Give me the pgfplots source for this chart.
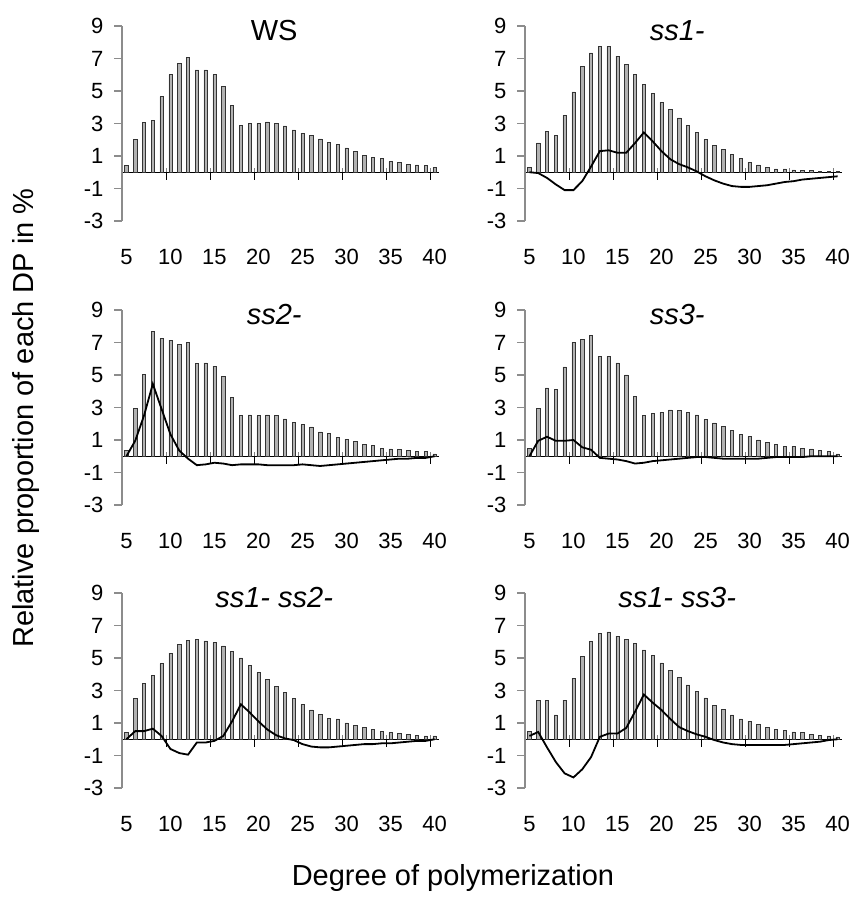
\documentclass[border=0pt]{standalone}
\usepackage{fontspec}
\setmainfont{Liberation Sans}
\usepackage{pgfplots}
\usepackage{pgfplotstable}
\pgfplotsset{compat=1.18}

% columns: dp, bar = share of each DP (%), diff = difference to WS (%)
\pgfplotstableread{
dp bar
5 0.40
6 2.00
7 3.05
8 3.20
9 4.65
10 6.00
11 6.70
12 7.05
13 6.30
14 6.30
15 6.00
16 5.30
17 4.10
18 2.90
19 3.00
20 3.00
21 3.10
22 3.00
23 2.85
24 2.60
25 2.40
26 2.25
27 2.05
28 1.85
29 1.70
30 1.50
31 1.30
32 1.05
33 0.90
34 0.85
35 0.65
36 0.60
37 0.50
38 0.45
39 0.40
40 0.30
}\ws

\pgfplotstableread{
dp bar diff
5 0.30 0.00
6 1.80 -0.05
7 2.50 -0.35
8 2.25 -0.75
9 3.50 -1.10
10 4.95 -1.10
11 6.50 -0.55
12 7.35 0.35
13 7.75 1.30
14 7.75 1.35
15 7.15 1.20
16 6.65 1.20
17 6.00 1.80
18 5.40 2.45
19 4.85 1.90
20 4.30 1.30
21 3.85 0.80
22 3.35 0.50
23 2.90 0.30
24 2.45 0.05
25 2.00 -0.25
26 1.65 -0.50
27 1.40 -0.70
28 1.10 -0.85
29 0.85 -0.90
30 0.60 -0.90
31 0.45 -0.85
32 0.30 -0.80
33 0.20 -0.70
34 0.20 -0.60
35 0.15 -0.55
36 0.10 -0.45
37 0.10 -0.40
38 0.05 -0.35
39 0.05 -0.30
40 0.05 -0.25
}\ssone

\pgfplotstableread{
dp bar diff
5 0.35 0.00
6 2.95 0.95
7 5.05 2.50
8 7.70 4.45
9 7.25 2.90
10 7.15 1.35
11 6.90 0.35
12 7.00 -0.15
13 5.70 -0.55
14 5.75 -0.50
15 5.55 -0.40
16 4.90 -0.45
17 3.60 -0.55
18 2.50 -0.50
19 2.55 -0.50
20 2.50 -0.50
21 2.55 -0.55
22 2.50 -0.55
23 2.30 -0.55
24 2.10 -0.55
25 1.95 -0.50
26 1.80 -0.55
27 1.50 -0.60
28 1.40 -0.55
29 1.15 -0.50
30 1.05 -0.45
31 0.90 -0.40
32 0.75 -0.35
33 0.65 -0.30
34 0.50 -0.25
35 0.45 -0.20
36 0.40 -0.15
37 0.35 -0.15
38 0.30 -0.10
39 0.30 -0.10
40 0.15 0.00
}\sstwo

\pgfplotstableread{
dp bar diff
5 0.50 0.00
6 2.95 0.95
7 4.20 1.20
8 4.10 0.95
9 5.50 0.95
10 7.00 1.00
11 7.20 0.55
12 7.45 0.40
13 6.15 -0.10
14 6.15 -0.15
15 5.75 -0.20
16 5.00 -0.30
17 3.70 -0.45
18 2.50 -0.40
19 2.65 -0.30
20 2.70 -0.25
21 2.85 -0.20
22 2.80 -0.15
23 2.70 -0.10
24 2.55 -0.05
25 2.25 -0.05
26 2.05 -0.10
27 1.85 -0.15
28 1.60 -0.15
29 1.35 -0.15
30 1.20 -0.15
31 1.00 -0.15
32 0.85 -0.10
33 0.75 -0.05
34 0.60 -0.05
35 0.60 -0.05
36 0.50 -0.05
37 0.45 0.00
38 0.35 0.00
39 0.30 0.00
40 0.15 0.00
}\ssthree

\pgfplotstableread{
dp bar diff
5 0.40 0.00
6 2.50 0.50
7 3.45 0.50
8 3.95 0.65
9 4.65 0.20
10 5.30 -0.60
11 5.85 -0.85
12 6.10 -0.95
13 6.15 -0.20
14 6.05 -0.20
15 5.95 -0.10
16 5.75 0.20
17 5.40 1.10
18 5.00 2.15
19 4.55 1.65
20 4.10 1.10
21 3.70 0.60
22 3.25 0.25
23 2.90 0.05
24 2.50 -0.05
25 2.15 -0.30
26 1.80 -0.45
27 1.55 -0.50
28 1.30 -0.50
29 1.25 -0.45
30 1.00 -0.40
31 0.85 -0.35
32 0.75 -0.30
33 0.60 -0.30
34 0.50 -0.25
35 0.40 -0.25
36 0.35 -0.20
37 0.30 -0.15
38 0.25 -0.10
39 0.20 -0.10
40 0.20 0.00
}\ssonetwo

\pgfplotstableread{
dp bar diff
5 0.50 0.20
6 2.40 0.45
7 2.40 -0.50
8 1.50 -1.40
9 2.40 -2.10
10 3.75 -2.35
11 5.10 -1.85
12 6.00 -1.10
13 6.50 0.15
14 6.60 0.35
15 6.35 0.35
16 6.15 0.70
17 5.90 1.70
18 5.50 2.75
19 5.15 2.25
20 4.70 1.80
21 4.25 1.25
22 3.80 0.75
23 3.35 0.50
24 2.95 0.30
25 2.55 0.15
26 2.10 -0.05
27 1.85 -0.20
28 1.50 -0.30
29 1.25 -0.35
30 1.10 -0.35
31 0.90 -0.35
32 0.75 -0.35
33 0.60 -0.35
34 0.55 -0.35
35 0.45 -0.30
36 0.40 -0.25
37 0.30 -0.20
38 0.25 -0.15
39 0.20 -0.05
40 0.15 0.00
}\ssonethree

\pgfplotsset{
  dppanel/.style={
    scale only axis, width=317pt, height=195pt,
    anchor=south west,
    xmin=4.5, xmax=40.5, ymin=-3, ymax=9,
    axis x line*=middle, axis y line*=left,
    hide obscured x ticks=false,
    % labels sit on the categories, half a category right of the boundaries
    xtick={4.5,9.5,14.5,19.5,24.5,29.5,34.5,39.5},
    xticklabels={5,10,15,20,25,30,35,40},
    xticklabel style={anchor=center, xshift=4.4pt, yshift=-81pt},
    ytick={-3,-1,1,3,5,7,9},
    ytick align=outside,
    xtick align=center,
    major tick length=8pt,
    every y tick/.append style={black!45, line width=1.3pt},
    tick label style={font=\fontsize{22}{24}\selectfont},
    yticklabel style={xshift=-7pt},
    /pgf/number format/assume math mode=true,
    x axis line style={black, line width=1pt},
    y axis line style={black!45, line width=1.3pt},
    title style={at={(axis description cs:0.48,0.945)}, anchor=center,
      font=\fontsize{29}{32}\selectfont},
    clip=false,
  },
  dpbar/.style={ybar, bar width=0.38, fill=black!30, draw=black!80, line width=0.5pt},
  dpline/.style={black, line width=1.8pt, mark=none},
}

% short downward marks on the zero line at the category boundaries
\newcommand{\boundaryticks}{%
  \addplot[ycomb, black, line width=1pt, mark=none, forget plot]
    coordinates {(9.5,-0.45) (14.5,-0.45) (19.5,-0.45) (24.5,-0.45)
                 (29.5,-0.45) (34.5,-0.45) (39.5,-0.45)};}

\begin{document}
\begin{tikzpicture}
\path[use as bounding box] (0,0) rectangle (856pt,897pt);

\begin{axis}[dppanel, at={(122pt,676pt)}, title={WS}]
  \addplot[dpbar] table[x=dp, y=bar] {\ws};
  \boundaryticks
\end{axis}

\begin{axis}[dppanel, at={(525pt,676pt)}, title={\textit{ss1-}}]
  \addplot[dpbar] table[x=dp, y=bar] {\ssone};
  \boundaryticks
  \addplot[dpline] table[x=dp, y=diff] {\ssone};
\end{axis}

\begin{axis}[dppanel, at={(122pt,392pt)}, title={\textit{ss2-}}]
  \addplot[dpbar] table[x=dp, y=bar] {\sstwo};
  \boundaryticks
  \addplot[dpline] table[x=dp, y=diff] {\sstwo};
\end{axis}

\begin{axis}[dppanel, at={(525pt,392pt)}, title={\textit{ss3-}}]
  \addplot[dpbar] table[x=dp, y=bar] {\ssthree};
  \boundaryticks
  \addplot[dpline] table[x=dp, y=diff] {\ssthree};
\end{axis}

\begin{axis}[dppanel, at={(122pt,109pt)}, title={\textit{ss1- ss2-}}]
  \addplot[dpbar] table[x=dp, y=bar] {\ssonetwo};
  \boundaryticks
  \addplot[dpline] table[x=dp, y=diff] {\ssonetwo};
\end{axis}

\begin{axis}[dppanel, at={(525pt,109pt)}, title={\textit{ss1- ss3-}}]
  \addplot[dpbar] table[x=dp, y=bar] {\ssonethree};
  \boundaryticks
  \addplot[dpline] table[x=dp, y=diff] {\ssonethree};
\end{axis}

\node[font=\fontsize{29}{32}\selectfont] at (453pt,19pt) {Degree of polymerization};
\node[font=\fontsize{29}{32}\selectfont, rotate=90] at (26pt,479pt) {Relative proportion of each DP in \%};
\end{tikzpicture}
\end{document}
